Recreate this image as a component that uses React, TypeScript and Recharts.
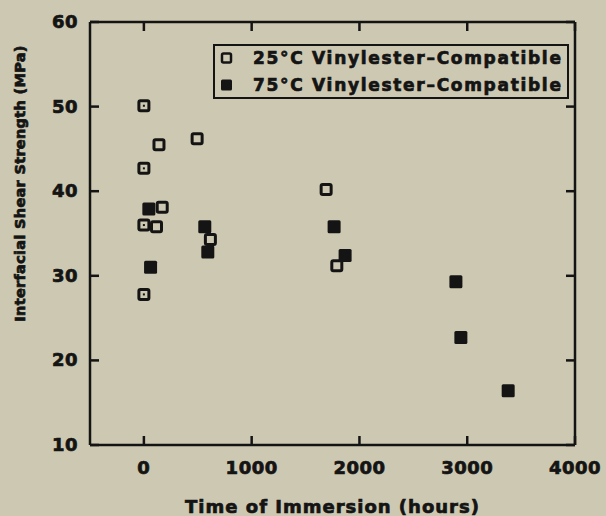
import React from 'react';
import { Legend, Scatter, ScatterChart, XAxis, YAxis } from 'recharts';

// 25°C series (open squares)
const hours25 = [0, 0, 140, 494, 170, 0, 117, 0, 617, 1691, 1790];
const ifss25 = [50.1, 42.7, 45.5, 46.2, 38.1, 36.0, 35.8, 27.8, 34.3, 40.2, 31.2];
// 75°C series (filled squares)
const hours75 = [46, 62, 565, 593, 1765, 1867, 2895, 2941, 3380];
const ifss75 = [37.9, 31.0, 35.8, 32.8, 35.8, 32.4, 29.3, 22.7, 16.4];

const seriesNames = ['25°C Vinylester–Compatible', '75°C Vinylester–Compatible'];
const xTicks = [0, 1000, 2000, 3000, 4000];
const yTicks = [10, 20, 30, 40, 50, 60];

const BG = '#cdc8b1';
const INK = '#141414';
const FONT = '"DejaVu Sans", sans-serif';
const TICK = 9;
// thin outline to thicken the glyphs like the heavy original type
const heavy = { fontFamily: FONT, fontWeight: 700, fill: INK, stroke: INK, strokeWidth: 0.7 } as const;

const data25 = hours25.map((h, i) => ({ h, v: ifss25[i] }));
const data75 = hours75.map((h, i) => ({ h, v: ifss75[i] }));

const OpenSquare = (props: any) => {
  const { cx, cy, payload } = props;
  return (
    <g>
      <rect x={cx - 5} y={cy - 5} width={10} height={10} rx={1.5} fill={BG} stroke={INK} strokeWidth={3} />
      {payload?.h === 0 && <rect x={cx - 1} y={cy - 1} width={2} height={2} fill={INK} />}
    </g>
  );
};

const FilledSquare = (props: any) => {
  const { cx, cy } = props;
  return <rect x={cx - 6.5} y={cy - 6.5} width={13} height={13} rx={1.5} fill={INK} />;
};

const BottomTick = ({ x, y, payload }: any) => (
  <g>
    <line x1={x} x2={x} y1={y} y2={y - TICK} stroke={INK} strokeWidth={2.5} />
    <text x={x} y={y + 29} textAnchor="middle" fontSize={18} letterSpacing={0.5} {...heavy}>
      {payload.value}
    </text>
  </g>
);

const LeftTick = ({ x, y, payload }: any) => (
  <g>
    <line x1={x} x2={x + TICK} y1={y} y2={y} stroke={INK} strokeWidth={2.5} />
    <text x={x - 12} y={y + 6} textAnchor="end" fontSize={18} letterSpacing={0.5} {...heavy}>
      {payload.value}
    </text>
  </g>
);

const TopTick = ({ x, y }: any) => <line x1={x} x2={x} y1={y} y2={y + TICK} stroke={INK} strokeWidth={2.5} />;
const RightTick = ({ x, y }: any) => <line x1={x} x2={x - TICK} y1={y} y2={y} stroke={INK} strokeWidth={2.5} />;

const YTitle = (props: any) => {
  const { viewBox } = props;
  const x = viewBox.x + 20;
  const y = viewBox.y + viewBox.height / 2 - 50;
  return (
    <text x={x} y={y} transform={`rotate(-90 ${x} ${y})`} textAnchor="middle" dominantBaseline="central"
      fontSize={14.5} letterSpacing={0.3} {...heavy}>
      Interfacial Shear Strength (MPa)
    </text>
  );
};

const XTitle = (props: any) => {
  const { viewBox } = props;
  const x = viewBox.x + viewBox.width / 2;
  const y = viewBox.y + 61;
  return (
    <text x={x} y={y} textAnchor="middle" dominantBaseline="central" fontSize={18} letterSpacing={1} {...heavy}>
      Time of Immersion (hours)
    </text>
  );
};

const renderLegend = () => (
  <svg width={356} height={55} style={{ display: 'block' }}>
    <rect x={1} y={1} width={354} height={53} fill="none" stroke={INK} strokeWidth={2} />
    {seriesNames.map((name, i) => {
      const cy = 14 + i * 27;
      return (
        <g key={name}>
          {i === 0 ? (
            <rect x={9} y={cy - 4.5} width={9} height={9} rx={1.5} fill="none" stroke={INK} strokeWidth={2.5} />
          ) : (
            <rect x={8} y={cy - 5.5} width={11} height={11} rx={1.5} fill={INK} />
          )}
          <text x={40} y={cy} dominantBaseline="central" fontSize={17} letterSpacing={1.7} {...heavy}>
            {name}
          </text>
        </g>
      );
    })}
  </svg>
);

export default function App() {
  return (
    <div style={{ position: 'fixed', left: 0, top: 0, width: 606, height: 516, background: BG }}>
      <ScatterChart width={606} height={516} margin={{ top: 21, right: 30, bottom: 0, left: 0 }}>
        <XAxis dataKey="h" type="number" domain={[-500, 4000]} ticks={xTicks} allowDataOverflow
          height={71} tickSize={0} tickMargin={0} tickLine={false} tick={<BottomTick />}
          axisLine={{ stroke: INK, strokeWidth: 2.5 }} label={<XTitle />} />
        <XAxis xAxisId="top" orientation="top" dataKey="h" type="number" domain={[-500, 4000]} ticks={xTicks} allowDataOverflow
          height={1} tickSize={0} tickMargin={0} tickLine={false} tick={<TopTick />}
          axisLine={{ stroke: INK, strokeWidth: 2.5 }} />
        <YAxis dataKey="v" type="number" domain={[10, 60]} ticks={yTicks} allowDataOverflow
          width={90} tickSize={0} tickMargin={0} tickLine={false} tick={<LeftTick />}
          axisLine={{ stroke: INK, strokeWidth: 2.5 }} label={<YTitle />} />
        <YAxis yAxisId="right" orientation="right" dataKey="v" type="number" domain={[10, 60]} ticks={yTicks} allowDataOverflow
          width={1} tickSize={0} tickMargin={0} tickLine={false} tick={<RightTick />}
          axisLine={{ stroke: INK, strokeWidth: 2.5 }} />
        <Legend layout="horizontal" verticalAlign="middle" align="center" content={renderLegend}
          wrapperStyle={{ position: 'absolute', left: 213, top: 44, width: 356, height: 55 }} />
        <Scatter name={seriesNames[0]} data={data25} shape={<OpenSquare />} isAnimationActive={false} />
        <Scatter name={seriesNames[1]} data={data75} shape={<FilledSquare />} isAnimationActive={false} />
        {/* empty series bound to the mirrored frame axes so they get drawn */}
        <Scatter data={[]} xAxisId="top" yAxisId="right" legendType="none" isAnimationActive={false} />
      </ScatterChart>
    </div>
  );
}
